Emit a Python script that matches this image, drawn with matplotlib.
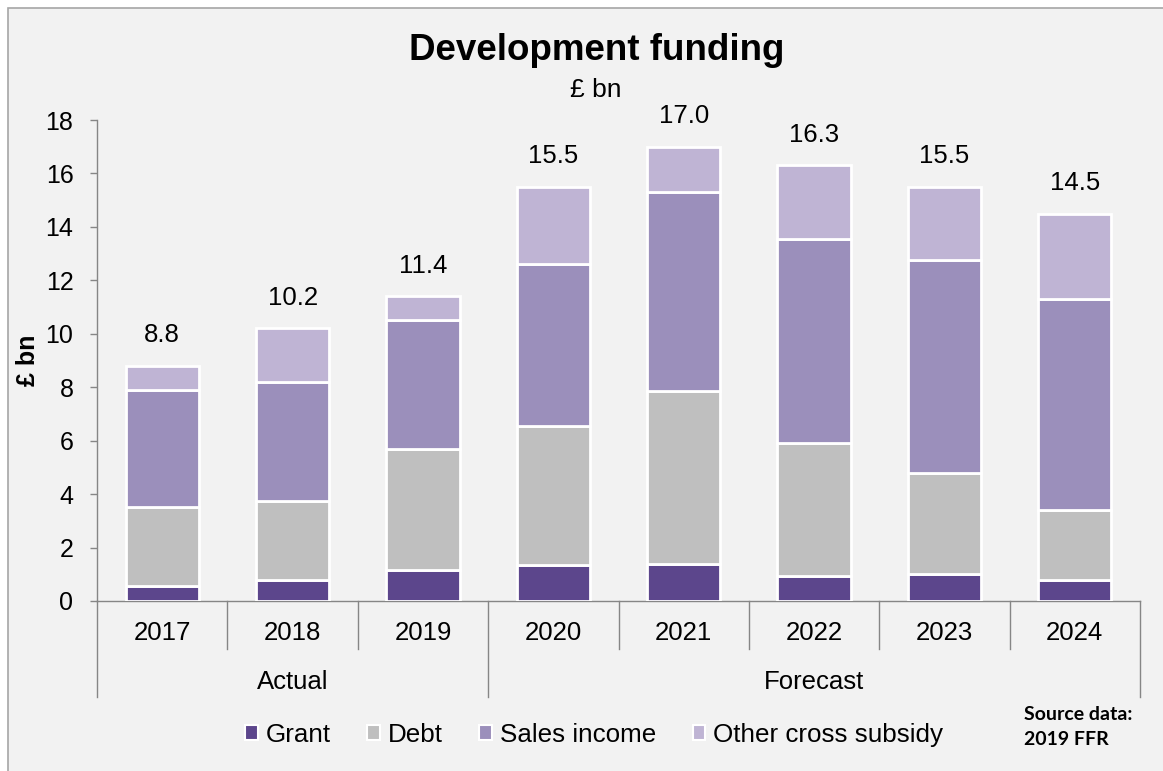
import matplotlib
matplotlib.use('Agg')
import matplotlib.pyplot as plt
import matplotlib.transforms as mtransforms
from matplotlib.patches import Rectangle, Patch
from matplotlib.lines import Line2D

# ---------------- data ----------------
years = ['2017', '2018', '2019', '2020', '2021', '2022', '2023', '2024']
group_names = ['Actual', 'Forecast']
group_sizes = [3, 5]

grant = [0.55, 0.80, 1.15, 1.35, 1.40, 0.95, 1.00, 0.80]
debt = [2.95, 2.95, 4.55, 5.20, 6.45, 4.95, 3.80, 2.60]
sales = [4.40, 4.45, 4.80, 6.05, 7.45, 7.65, 7.95, 7.90]
other = [0.90, 2.00, 0.90, 2.90, 1.70, 2.75, 2.75, 3.20]

series_names = ['Grant', 'Debt', 'Sales income', 'Other cross subsidy']
series_colors = ['#5c468c', '#bfbfbf', '#9b8fbb', '#bfb4d4']

y_ticks = [0, 2, 4, 6, 8, 10, 12, 14, 16, 18]

# ---------------- figure ----------------
plt.rcParams['font.family'] = ['Liberation Sans', 'DejaVu Sans']
W, H = 1163, 771
fig = plt.figure(figsize=(W / 100, H / 100), dpi=100, facecolor='white')

# chart area background with border
fig.patches.append(Rectangle((7.5 / W, -0.05), 1.2, 1 - 8.5 / H + 0.05,
                             transform=fig.transFigure, facecolor='#f2f2f2',
                             edgecolor='#a6a6a6', linewidth=1.2, zorder=-10))

ax = fig.add_axes([97 / W, 1 - 601 / H, (1140 - 97) / W, (601 - 120) / H])
ax.set_facecolor('none')

x = list(range(len(years)))
series = [grant, debt, sales, other]
bottom = [0.0] * len(years)
for vals, name, col in zip(series, series_names, series_colors):
    ax.bar(x, vals, bottom=bottom, width=0.562, color=col, edgecolor='white',
           linewidth=2.0, label=name, zorder=3)
    bottom = [b + v for b, v in zip(bottom, vals)]

totals = bottom
for xi, t in zip(x, totals):
    ax.annotate(f'{t:.1f}', (xi, t), xytext=(0, 17), textcoords='offset points',
                ha='center', va='baseline', fontsize=18.5, color='black')

ax.set_xlim(-0.5, len(years) - 0.5)
ax.set_ylim(0, 18)
ax.set_yticks(y_ticks)
ax.set_xticks([])
ax.tick_params(axis='y', direction='out', length=5, width=1, color='#868686',
               labelsize=18, pad=12)
for s in ['top', 'right']:
    ax.spines[s].set_visible(False)
for s in ['left', 'bottom']:
    ax.spines[s].set_color('#868686')
    ax.spines[s].set_linewidth(1)

# multi-level category axis
trans = mtransforms.blended_transform_factory(ax.transData, ax.transAxes)
boundaries = [-0.5]
for g in group_sizes:
    boundaries.append(boundaries[-1] + g)
for k in range(len(years) + 1):
    xb = k - 0.5
    depth = -0.2 if xb in boundaries else -0.1
    ax.add_line(Line2D([xb, xb], [0, depth], transform=trans, color='#868686',
                       linewidth=1, clip_on=False))
for xi, yr in zip(x, years):
    ax.text(xi, -0.066, yr, transform=trans, ha='center', va='center', fontsize=18.5)
for gname, b0, b1 in zip(group_names, boundaries[:-1], boundaries[1:]):
    ax.text((b0 + b1) / 2, -0.168, gname, transform=trans, ha='center',
            va='center', fontsize=18.5)

# titles
fig.text(597 / W, 1 - 50 / H, 'Development funding', fontsize=26.5,
         fontweight='bold', ha='center', va='center')
fig.text(596 / W, 1 - 90 / H, '£ bn', fontsize=19, ha='center', va='center')
fig.text(28 / W, 1 - 360 / H, '£ bn', fontsize=18, fontweight='bold',
         rotation=90, ha='center', va='center')

# legend
handles = [Patch(facecolor=c, edgecolor='white', linewidth=1.5) for c in series_colors]
fig.legend(handles, series_names, loc='center', bbox_to_anchor=(594 / W, 1 - 735 / H),
           ncol=4, frameon=False, fontsize=18.7, handlelength=0.5, handleheight=0.5,
           handletextpad=0.3, columnspacing=1.4, borderpad=0)

# source note
fig.text(1024 / W, 1 - 720 / H, 'Source data:', fontsize=14, fontweight='bold',
         family=['Lato', 'DejaVu Sans'], ha='left', va='baseline')
fig.text(1024 / W, 1 - 745 / H, '2019 FFR', fontsize=14, fontweight='bold',
         family=['Lato', 'DejaVu Sans'], ha='left', va='baseline')

fig.savefig('out.png', dpi=100, facecolor=fig.get_facecolor())
